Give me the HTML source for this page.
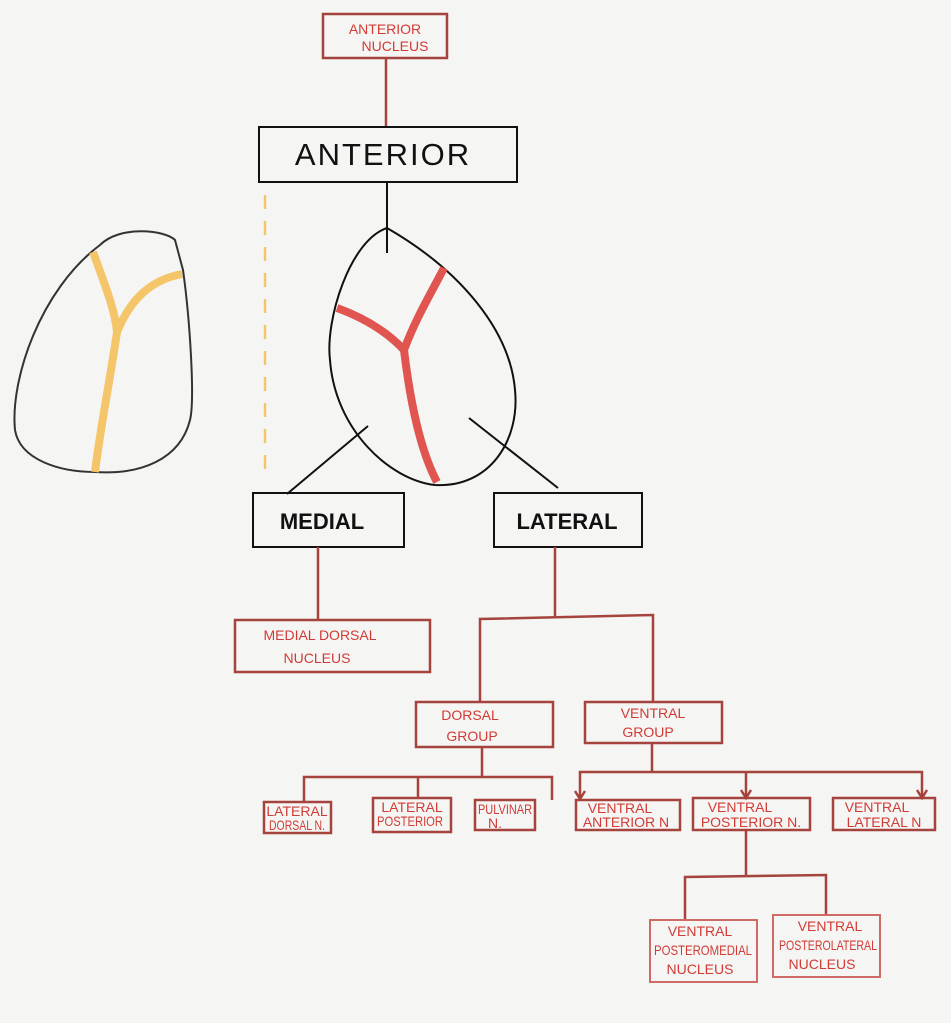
<!DOCTYPE html>
<html><head><meta charset="utf-8"><style>
html,body{margin:0;padding:0;background:#f5f5f4;}
svg{display:block}
text{font-family:"Liberation Sans",sans-serif;}
.r{fill:none;stroke:#a5433d;stroke-width:2.5}
.t{fill:#d23b35;font-size:14px}
.k{fill:none;stroke:#111;stroke-width:2}
</style></head><body>
<svg width="951" height="1023" viewBox="0 0 951 1023">
<rect width="951" height="1023" fill="#f5f5f4"/>
<rect class="r" x="323" y="14" width="124" height="44"/>
<text class="t" x="385" y="34" text-anchor="middle" font-size="15">ANTERIOR</text>
<text class="t" x="395" y="51" text-anchor="middle" font-size="13">NUCLEUS</text>
<line class="r" x1="386" y1="58" x2="386" y2="127"/>
<rect class="k" x="259" y="127" width="258" height="55"/>
<text x="383" y="165" text-anchor="middle" font-size="31" fill="#111" letter-spacing="2">ANTERIOR</text>
<line class="k" x1="387" y1="182" x2="387" y2="253"/>
<path d="M100,245 C120,225 165,230 175,240 L183,270 C190,320 195,400 190,420 C180,460 140,475 95,472 C60,472 20,460 15,430 C10,380 40,290 100,245 Z" fill="none" stroke="#333" stroke-width="2"/>
<path d="M93,252 C105,285 115,310 117,332 C110,380 100,430 95,472 M117,332 C130,300 150,280 182,274" fill="none" stroke="#f5c56a" stroke-width="8"/>
<line x1="265" y1="195" x2="265" y2="472" stroke="#f5c56a" stroke-width="2.5" stroke-dasharray="14,12"/>
<path d="M387,228 C350,240 325,320 330,360 C335,430 390,480 435,485 C490,488 520,440 515,390 C510,330 460,270 387,228 Z" class="k"/>
<path d="M337,308 C370,320 390,335 404,350 C410,400 420,450 437,482 M404,350 C415,320 430,295 444,268" fill="none" stroke="#e05550" stroke-width="8"/>
<line class="k" x1="368" y1="426" x2="287" y2="494"/>
<line class="k" x1="469" y1="418" x2="558" y2="488"/>
<rect class="k" x="253" y="493" width="151" height="54"/>
<text x="322" y="529" text-anchor="middle" font-size="22" fill="#111" font-weight="bold">MEDIAL</text>
<rect class="k" x="494" y="493" width="148" height="54"/>
<text x="567" y="529" text-anchor="middle" font-size="22" fill="#111" font-weight="bold">LATERAL</text>
<line class="r" x1="318" y1="547" x2="318" y2="620"/>
<rect class="r" x="235" y="620" width="195" height="52"/>
<text class="t" x="320" y="640" text-anchor="middle" font-size="17">MEDIAL  DORSAL</text>
<text class="t" x="317" y="663" text-anchor="middle" font-size="17">NUCLEUS</text>
<line class="r" x1="555" y1="547" x2="555" y2="616"/>
<polyline class="r" points="480,702 480,619 653,615 653,702"/>
<rect class="r" x="416" y="702" width="137" height="45"/>
<text class="t" x="470" y="720" text-anchor="middle">DORSAL</text>
<text class="t" x="472" y="741" text-anchor="middle">GROUP</text>
<rect class="r" x="585" y="702" width="137" height="41"/>
<text class="t" x="653" y="718" text-anchor="middle">VENTRAL</text>
<text class="t" x="648" y="737" text-anchor="middle">GROUP</text>
<line class="r" x1="482" y1="747" x2="482" y2="777"/>
<polyline class="r" points="304,802 304,777 552,777 552,800"/>
<line class="r" x1="418" y1="777" x2="418" y2="798"/>
<rect class="r" x="264" y="802" width="67" height="31"/>
<text class="t" x="297" y="816" text-anchor="middle" font-size="10">LATERAL</text>
<text class="t" x="297" y="830" text-anchor="middle" font-size="10" textLength="56" lengthAdjust="spacingAndGlyphs">DORSAL N.</text>
<rect class="r" x="373" y="798" width="78" height="34"/>
<text class="t" x="412" y="812" text-anchor="middle" font-size="11">LATERAL</text>
<text class="t" x="410" y="826" text-anchor="middle" font-size="10" textLength="66" lengthAdjust="spacingAndGlyphs">POSTERIOR</text>
<rect class="r" x="475" y="800" width="60" height="30"/>
<text class="t" x="505" y="814" text-anchor="middle" font-size="11" textLength="54" lengthAdjust="spacingAndGlyphs">PULVINAR</text>
<text class="t" x="495" y="828" text-anchor="middle" font-size="11">N.</text>
<line class="r" x1="652" y1="743" x2="652" y2="772"/>
<polyline class="r" points="580,798 580,772 922,772 922,798"/>
<line class="r" x1="746" y1="772" x2="746" y2="797"/>
<path d="M575,791 L580,799 L585,791 M741,790 L746,798 L751,790 M917,790 L922,798 L927,790" fill="none" stroke="#a5433d" stroke-width="2.5"/>
<rect class="r" x="576" y="800" width="104" height="30"/>
<text class="t" x="620" y="813" text-anchor="middle" font-size="12">VENTRAL</text>
<text class="t" x="626" y="827" text-anchor="middle" font-size="12">ANTERIOR N</text>
<rect class="r" x="693" y="798" width="117" height="32"/>
<text class="t" x="740" y="812" text-anchor="middle" font-size="12">VENTRAL</text>
<text class="t" x="751" y="827" text-anchor="middle" font-size="12">POSTERIOR  N.</text>
<rect class="r" x="833" y="798" width="102" height="32"/>
<text class="t" x="877" y="812" text-anchor="middle" font-size="13">VENTRAL</text>
<text class="t" x="884" y="827" text-anchor="middle" font-size="13">LATERAL  N</text>
<line class="r" x1="746" y1="830" x2="746" y2="877"/>
<polyline class="r" points="685,920 685,877 826,875 826,915"/>
<rect x="650" y="920" width="107" height="62" fill="none" stroke="#cf6a64" stroke-width="2"/>
<text class="t" x="700" y="936" text-anchor="middle" font-size="12">VENTRAL</text>
<text class="t" x="703" y="955" text-anchor="middle" font-size="11" textLength="98" lengthAdjust="spacingAndGlyphs">POSTEROMEDIAL</text>
<text class="t" x="700" y="974" text-anchor="middle" font-size="12">NUCLEUS</text>
<rect x="773" y="915" width="107" height="62" fill="none" stroke="#cf6a64" stroke-width="2"/>
<text class="t" x="830" y="931" text-anchor="middle" font-size="12">VENTRAL</text>
<text class="t" x="828" y="950" text-anchor="middle" font-size="11" textLength="98" lengthAdjust="spacingAndGlyphs">POSTEROLATERAL</text>
<text class="t" x="822" y="969" text-anchor="middle" font-size="12">NUCLEUS</text>
</svg>
</body></html>
